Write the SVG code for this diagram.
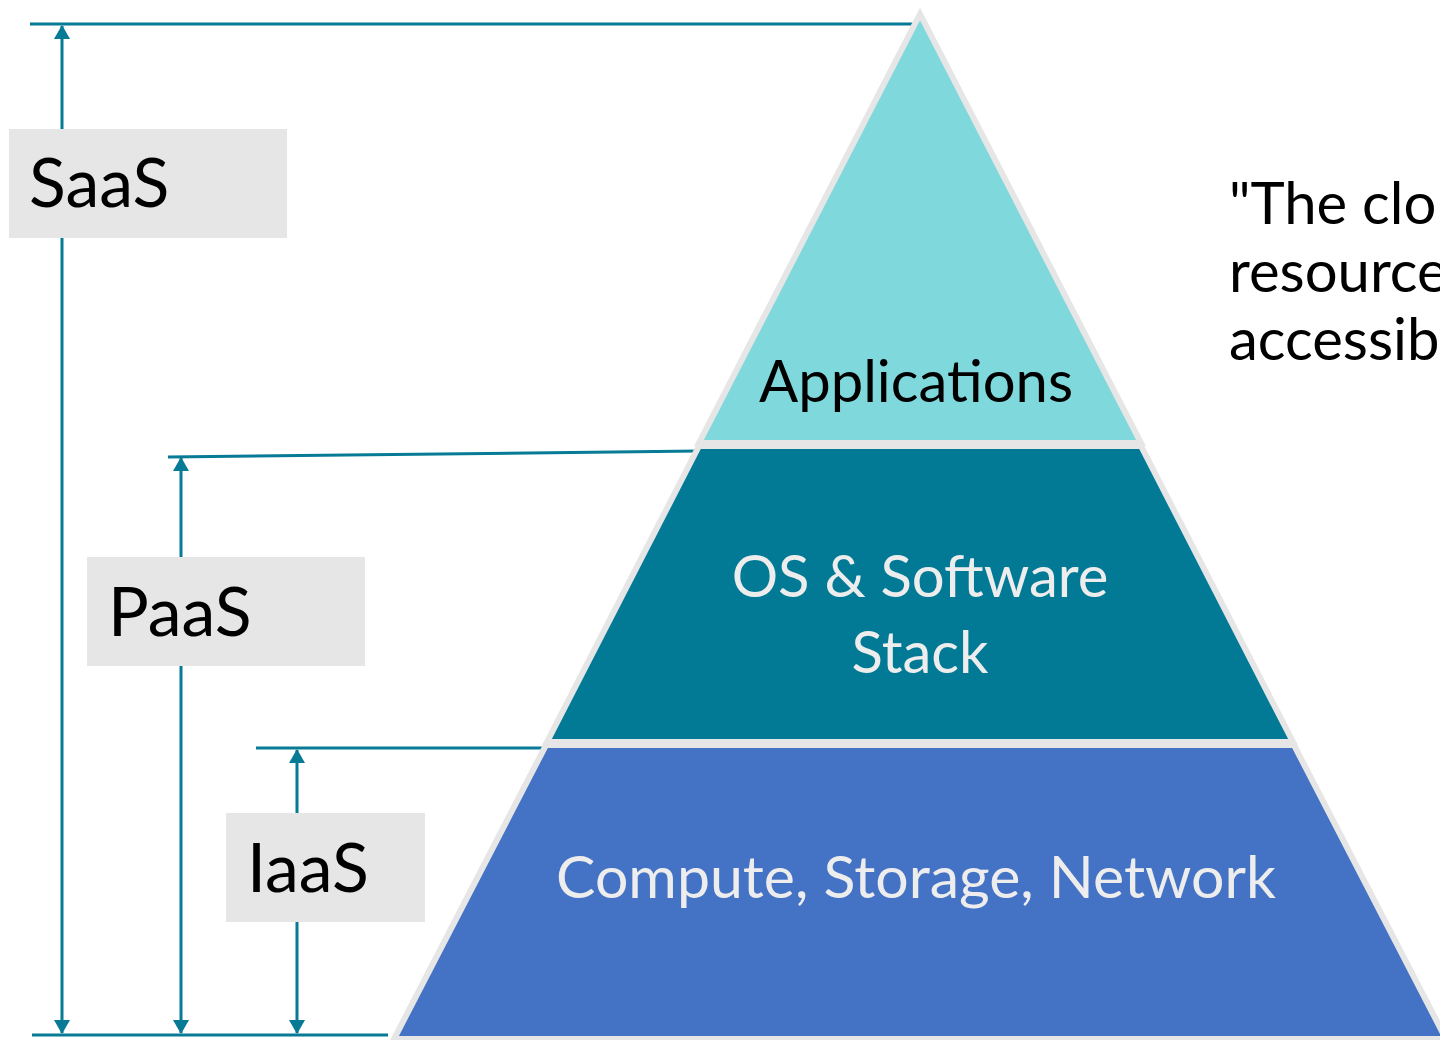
<svg xmlns="http://www.w3.org/2000/svg" width="1440" height="1040" viewBox="0 0 1440 1040">
<style>
.layer{stroke:#E6E6E6;stroke-width:6;stroke-linejoin:miter}
.conn{stroke:#077A96;stroke-width:3;fill:none}
.lbl{fill:#E6E6E6}
.t{font-family:Lato,"Open Sans",sans-serif}
</style>
<defs>
<marker id="arr" viewBox="0 0 14 16" refX="13" refY="8" markerWidth="14" markerHeight="16" markerUnits="userSpaceOnUse" orient="auto-start-reverse">
<path d="M0,0 L14,8 L0,16 z" fill="#077A96"/>
</marker>
</defs>
<rect width="1440" height="1040" fill="#FFFFFF"/>
<g id="connectors">
<line class="conn" x1="30" y1="24" x2="918" y2="24"/>
<line class="conn" x1="168" y1="457" x2="698" y2="451"/>
<line class="conn" x1="256" y1="748" x2="546" y2="748"/>
<line class="conn" x1="32" y1="1035" x2="388" y2="1035"/>
<path class="conn" d="M62,1033 L62,26" marker-start="url(#arr)" marker-end="url(#arr)"/>
<path class="conn" d="M181,1033 L181,458" marker-start="url(#arr)" marker-end="url(#arr)"/>
<path class="conn" d="M297,1033 L297,750" marker-start="url(#arr)" marker-end="url(#arr)"/>
</g>
<g id="applications">
<polygon class="layer" fill="#7FD8DC" points="920,14 1141,443 699,443"/>
<text class="t" x="916" y="402" font-size="58" text-anchor="middle" fill="#000000">Applications</text>
</g>
<g id="os-software">
<polygon class="layer" fill="#027A96" points="699,446 1141,446 1293,742 547,742"/>
<text class="t" x="920" y="597" font-size="58" text-anchor="middle" fill="#EDEDED">OS &amp; Software</text>
<text class="t" x="920" y="673" font-size="58" text-anchor="middle" fill="#EDEDED">Stack</text>
</g>
<g id="compute">
<polygon class="layer" fill="#4472C4" points="546,745 1294,745 1446,1039 394,1039"/>
<text class="t" x="916" y="898" font-size="59" text-anchor="middle" fill="#EDEDED">Compute, Storage, Network</text>
</g>
<g id="saas">
<rect class="lbl" x="9" y="129" width="278" height="109"/>
<text class="t" x="29" y="207" font-size="68" fill="#000000">SaaS</text>
</g>
<g id="paas">
<rect class="lbl" x="87" y="557" width="278" height="109"/>
<text class="t" x="108" y="636" font-size="68" fill="#000000">PaaS</text>
</g>
<g id="iaas">
<rect class="lbl" x="226" y="813" width="199" height="109"/>
<text class="t" x="247" y="892" font-size="68" fill="#000000">IaaS</text>
</g>
<g id="quote">
<text class="t" x="1229" y="224" font-size="58" fill="#000000">"The clo</text>
<text class="t" x="1229" y="292" font-size="58" fill="#000000">resource</text>
<text class="t" x="1229" y="360" font-size="58" fill="#000000">accessib</text>
</g>
</svg>
